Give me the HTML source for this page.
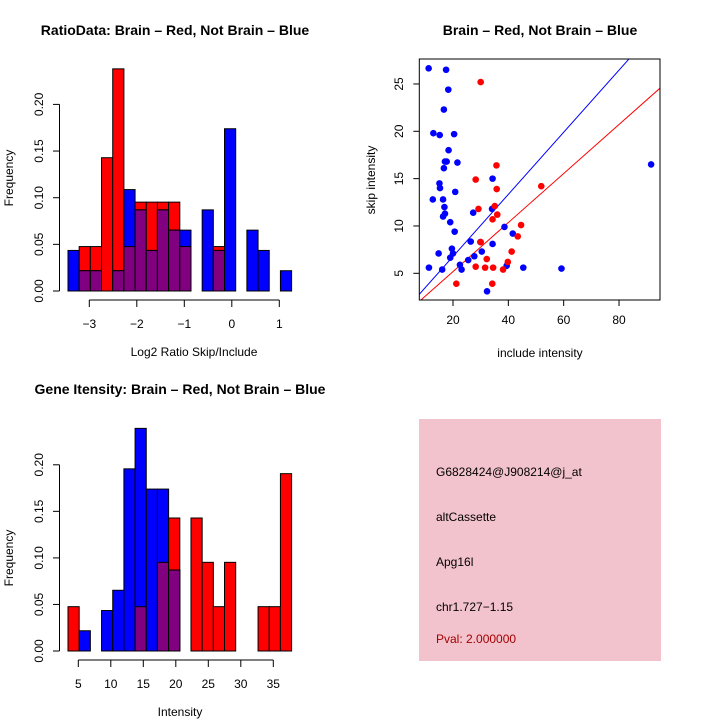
<!DOCTYPE html>
<html><head><meta charset="utf-8"><style>
html,body{margin:0;padding:0;background:#fff;}
svg{display:block;font-family:"Liberation Sans",sans-serif;}
</style></head><body>
<svg id="fig" width="720" height="720" viewBox="0 0 720 720">
<rect x="0" y="0" width="720" height="720" fill="#fff"/>
<g id="p1"></g>
<g id="p2"></g>
<g id="p3"></g>
<g>
<rect x="419" y="419" width="242" height="242" fill="#f3c3cd"/>
<text x="436" y="476" font-size="12">G6828424@J908214@j_at</text>
<text x="436" y="521" font-size="12">altCassette</text>
<text x="436" y="566" font-size="12">Apg16l</text>
<text x="436" y="611" font-size="12">chr1.727−1.15</text>
<text x="436" y="643" font-size="12" fill="#a00000">Pval: 2.000000</text>
</g>
</svg>
<script>
// ---- Ratio histogram data (counts per bin) ----
const ratioRedCounts  = [0,1,1,3,5,1,2,2,2,2,1,0,0,1,0,0,0,0,0,0];
const ratioBlueCounts = [2,1,1,0,1,5,4,2,4,3,3,0,4,2,8,0,3,2,0,1];
const ratioXTicks = [-3,-2,-1,0,1];
const ratioYTicks = [0,0.05,0.10,0.15,0.20];
// ---- Intensity histogram data ----
const intRedCounts  = [1,0,0,0,0,0,1,0,2,3,0,3,2,1,2,0,0,1,1,4];
const intBlueCounts = [0,1,0,2,3,9,11,8,8,4,0,0,0,0,0,0,0,0,0,0];
const intXTicks = [5,10,15,20,25,30,35];
const intYTicks = [0,0.05,0.10,0.15,0.20];
// ---- Scatter data ----
const blueInclude = [11.2,17.5,18.3,16.7,12.9,15.2,20.4,18.4,17.1,17.7,21.6,16.7,15.1,15.3,34.3,20.8,12.7,16.4,16.9,17.1,16.4,19.0,27.3,34.1,20.6,38.6,41.6,19.6,20.0,19.0,14.8,26.4,29.9,34.3,30.4,27.7,25.5,22.5,23.1,11.3,16.1,39.4,45.4,59.2,32.3,91.6];
const blueSkip    = [26.65,26.5,24.4,22.3,19.8,19.6,19.7,18.0,16.8,16.8,16.7,16.1,14.5,14.0,15.0,13.6,12.8,12.8,12.0,11.3,11.0,10.4,11.4,11.8,9.4,9.9,9.2,7.6,7.1,6.65,7.1,8.35,8.3,8.1,7.3,6.8,6.4,5.9,5.4,5.6,5.4,5.8,5.6,5.5,3.1,16.5];
const redInclude  = [30.0,35.7,28.2,35.8,51.9,35.1,29.2,36.0,34.3,44.6,43.4,30.0,41.2,32.2,39.8,28.2,31.6,34.5,38.1,21.2,34.2];
const redSkip     = [25.2,16.4,14.9,13.9,14.2,12.1,11.8,11.2,10.7,10.1,8.9,8.3,7.3,6.5,6.2,5.7,5.6,5.6,5.4,3.9,3.9];
const scatterXTicks = [20,40,60,80];
const scatterYTicks = [5,10,15,20,25];
const blueSlope = 0.328, blueIntercept = 0.22;
const redSlope = 0.259, redIntercept = 0.0;

const NS="http://www.w3.org/2000/svg";
function mk(parent,tag,attrs,text){const e=document.createElementNS(NS,tag);for(const k in attrs)e.setAttribute(k,attrs[k]);if(text!==undefined)e.textContent=text;parent.appendChild(e);return e;}
function fmt2(v){return v.toFixed(2);}

function histogram(g,red,blue,cfg){
  const nR=red.reduce((a,b)=>a+b,0), nB=blue.reduce((a,b)=>a+b,0);
  const yS=v=>cfg.y0-v*cfg.ppu;
  const xS=v=>cfg.xpx0+(v-cfg.xv0)*cfg.xppu;
  for(let i=0;i<red.length;i++){
    const x=cfg.barX0+i*cfg.barW;
    const r=red[i]/nR, b=blue[i]/nB;
    if(r>0){const e=mk(g,'rect',{x:x,y:yS(r),width:cfg.barW,height:cfg.y0-yS(r),fill:'#ff0000',stroke:'#000','stroke-width':1});
      
      }
    if(b>0){const e=mk(g,'rect',{x:x,y:yS(b),width:cfg.barW,height:cfg.y0-yS(b),fill:'#0000ff',stroke:'#000','stroke-width':1});
      
      }
    const m=Math.min(r,b);
    if(m>0){const e=mk(g,'rect',{x:x,y:yS(m),width:cfg.barW,height:cfg.y0-yS(m),fill:'#800080',stroke:'#000','stroke-width':1});
      
      }
  }
  // y axis
  const yt=cfg.yTicks;
  const ya=mk(g,'line',{x1:59.5,x2:59.5,y1:yS(yt[yt.length-1]),y2:yS(yt[0]),stroke:'#000'});
  
  
  yt.forEach(v=>{const y=yS(v);
    mk(g,'line',{x1:53,x2:59.5,y1:y,y2:y,stroke:'#000'});
    const t=mk(g,'text',{x:0,y:0,'font-size':12,'text-anchor':'middle',transform:`translate(43,${y}) rotate(-90)`},fmt2(v));
    
    });
  // x axis
  const xt=cfg.xTicks;
  const xa=mk(g,'line',{x1:xS(xt[0]),x2:xS(xt[xt.length-1]),y1:cfg.axY,y2:cfg.axY,stroke:'#000'});
  
  
  xt.forEach(v=>{const x=xS(v);
    mk(g,'line',{x1:x,x2:x,y1:cfg.axY,y2:cfg.axY+7,stroke:'#000'});
    const t=mk(g,'text',{x:x,y:cfg.axY+28,'font-size':12,'text-anchor':'middle'},v<0?'−'+Math.abs(v):String(v));
    
    });
  const xl=mk(g,'text',{x:cfg.xLabelX,y:cfg.axY+56,'font-size':12,'text-anchor':'middle'},cfg.xLabel);
  
  
  const yl=mk(g,'text',{x:0,y:0,'font-size':12,'text-anchor':'middle',transform:`translate(13,${cfg.yLabelY}) rotate(-90)`},'Frequency');
  
  
  const ti=mk(g,'text',{x:cfg.titleX,y:cfg.titleY,'font-size':14,'font-weight':'bold','text-anchor':'middle'},cfg.title);
  
  
}

histogram(document.getElementById('p1'),ratioRedCounts,ratioBlueCounts,{
  y0:291,ppu:933,barX0:68,barW:11.18,xpx0:89.3,xv0:-3,xppu:47.5,axY:300,
  xTicks:ratioXTicks,yTicks:ratioYTicks,xLabel:'Log2 Ratio Skip/Include',xLabelX:194,yLabelY:178,
  title:'RatioData: Brain – Red, Not Brain – Blue',titleX:175,titleY:35});
histogram(document.getElementById('p3'),intRedCounts,intBlueCounts,{
  y0:651,ppu:931,barX0:68,barW:11.18,xpx0:78.3,xv0:5,xppu:6.5,axY:660,
  xTicks:intXTicks,yTicks:intYTicks,xLabel:'Intensity',xLabelX:180,yLabelY:558,
  title:'Gene Itensity: Brain – Red, Not Brain – Blue',titleX:180,titleY:394});

// scatter
(function(){
  const g=document.getElementById('p2');
  const L=419.3,R=660,T=59,B=300;
  const xS=v=>453+(v-20)*2.767;
  const yS=v=>273.3-(v-5)*9.467;
  const xMin=(L-453)/2.767+20, xMax=(R-453)/2.767+20;
  const clip=mk(g,'clipPath',{id:'sc'});mk(clip,'rect',{x:L,y:T,width:R-L,height:B-T});
  const lb=mk(g,'line',{x1:xS(xMin),y1:yS(blueIntercept+blueSlope*xMin),x2:xS(xMax),y2:yS(blueIntercept+blueSlope*xMax),stroke:'#0000ff','clip-path':'url(#sc)'});
  
  
  const lr=mk(g,'line',{x1:xS(xMin),y1:yS(redIntercept+redSlope*xMin),x2:xS(xMax),y2:yS(redIntercept+redSlope*xMax),stroke:'#ff0000','clip-path':'url(#sc)'});
  
  
  blueInclude.forEach((v,i)=>{const c=mk(g,'circle',{cx:xS(v),cy:yS(blueSkip[i]),r:3.3,fill:'#0000ff'});
    
    });
  redInclude.forEach((v,i)=>{const c=mk(g,'circle',{cx:xS(v),cy:yS(redSkip[i]),r:3.3,fill:'#ff0000'});
    
    });
  const box=mk(g,'rect',{x:L,y:T,width:R-L,height:B-T,fill:'none',stroke:'#000'});
  
  
  scatterXTicks.forEach(v=>{const x=xS(v);
    mk(g,'line',{x1:x,x2:x,y1:B,y2:B+6,stroke:'#000'});
    const t=mk(g,'text',{x:x,y:B+24,'font-size':12,'text-anchor':'middle'},String(v));
    
    });
  scatterYTicks.forEach(v=>{const y=yS(v);
    mk(g,'line',{x1:L-6,x2:L,y1:y,y2:y,stroke:'#000'});
    const t=mk(g,'text',{x:0,y:0,'font-size':12,'text-anchor':'middle',transform:`translate(403,${y}) rotate(-90)`},String(v));
    
    });
  const xl=mk(g,'text',{x:540,y:357,'font-size':12,'text-anchor':'middle'},'include intensity');
  
  
  const yl=mk(g,'text',{x:0,y:0,'font-size':12,'text-anchor':'middle',transform:`translate(375,180) rotate(-90)`},'skip intensity');
  
  
  const ti=mk(g,'text',{x:540,y:35,'font-size':14,'font-weight':'bold','text-anchor':'middle'},'Brain – Red, Not Brain – Blue');
  
  
})();
</script>
</body></html>
